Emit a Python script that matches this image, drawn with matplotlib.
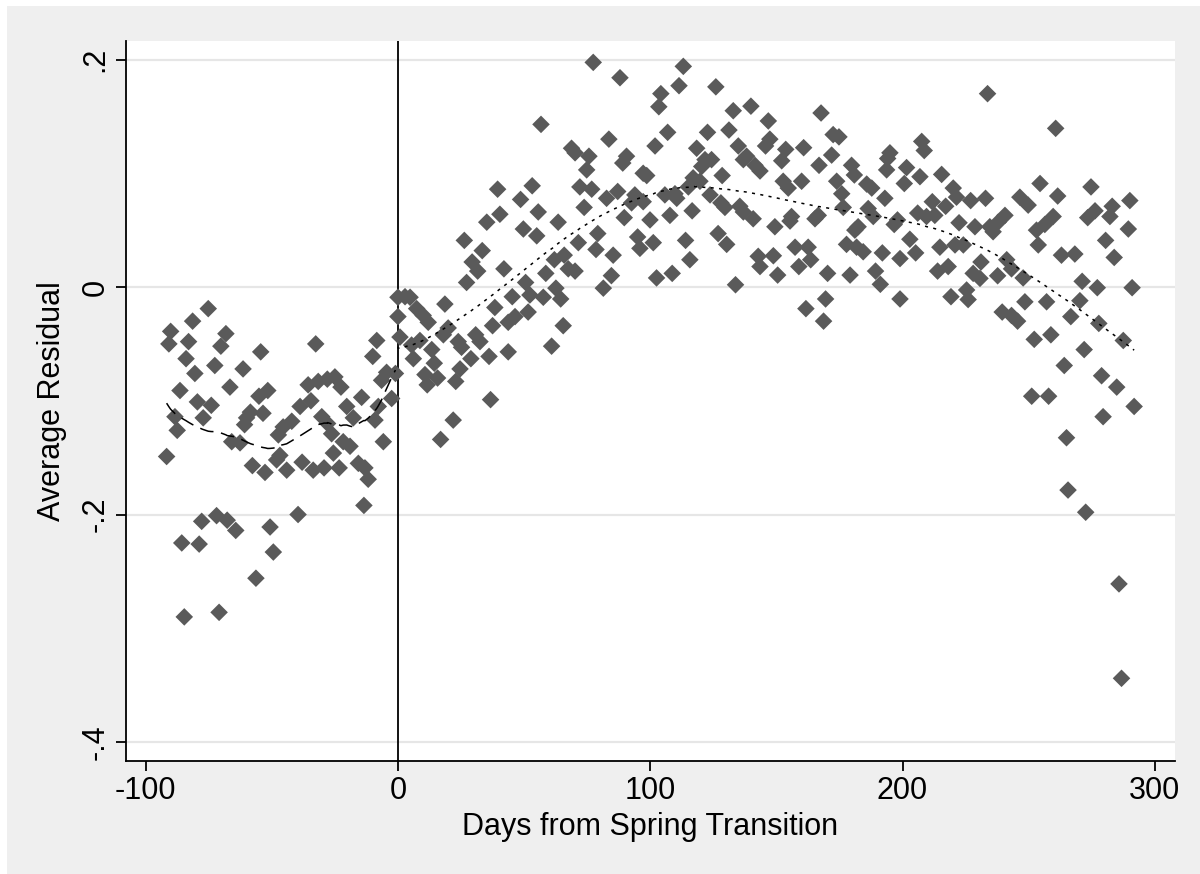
import numpy as np
import matplotlib
matplotlib.use("Agg")
import matplotlib.pyplot as plt
from matplotlib.patches import Rectangle

# ---------------- data ----------------
days_pre = [-91.7, -90.8, -90.1, -88.4, -87.5, -86.4, -85.7, -84.7, -84.0, -83.0,
            -81.4, -80.5, -79.5, -78.8, -77.8, -77.2, -75.2, -74.0, -72.6, -71.9,
            -70.9, -70.2, -68.2, -67.7, -66.6, -65.9, -64.3, -62.6, -61.4, -60.8,
            -60.0, -58.5, -57.7, -56.3, -55.1, -54.4, -53.5, -52.7, -51.6, -50.7,
            -49.4, -48.1, -47.4, -46.8, -45.5, -44.1, -42.1, -39.6, -38.8, -38.0,
            -35.6, -34.5, -33.6, -32.6, -31.6, -30.2, -29.3, -28.0, -27.9, -26.3,
            -25.6, -25.0, -23.3, -22.6, -21.7, -20.3, -19.0, -17.7, -15.7, -14.4,
            -13.5, -13.1, -11.8, -10.0, -9.1, -8.4, -7.8, -6.5, -5.8, -4.5,
            -2.5, -1.0]
resid_pre = [-0.149, -0.050, -0.039, -0.114, -0.126, -0.091, -0.225, -0.290, -0.063, -0.048,
             -0.030, -0.076, -0.101, -0.226, -0.206, -0.115, -0.019, -0.104, -0.069, -0.201,
             -0.286, -0.052, -0.041, -0.205, -0.088, -0.136, -0.214, -0.137, -0.072, -0.121,
             -0.115, -0.110, -0.157, -0.256, -0.096, -0.057, -0.111, -0.163, -0.091, -0.211,
             -0.233, -0.152, -0.130, -0.148, -0.123, -0.161, -0.118, -0.200, -0.105, -0.154,
             -0.086, -0.100, -0.161, -0.050, -0.083, -0.114, -0.159, -0.081, -0.120, -0.129,
             -0.146, -0.079, -0.159, -0.088, -0.136, -0.105, -0.140, -0.115, -0.155, -0.097,
             -0.192, -0.159, -0.169, -0.061, -0.117, -0.047, -0.105, -0.082, -0.136, -0.075,
             -0.098, -0.076]

days_post = [0.0, 0.0, 0.8, 2.8, 4.8, 5.4, 6.1, 7.4, 8.7, 10.0,
             10.7, 11.6, 12.0, 13.4, 14.4, 15.7, 16.9, 18.0, 18.6, 19.9,
             21.9, 22.9, 23.9, 24.6, 25.2, 26.3, 27.2, 28.9, 29.4, 30.8,
             31.6, 32.5, 33.4, 35.2, 36.1, 36.7, 37.5, 38.4, 39.5, 40.4,
             42.0, 43.7, 43.7, 45.3, 46.4, 48.6, 49.7, 50.6, 51.6, 52.3,
             53.2, 55.0, 55.6, 56.7, 57.6, 58.6, 60.9, 62.0, 62.6, 63.5,
             64.5, 65.5, 65.9, 67.5, 68.8, 70.2, 70.2, 71.5, 72.1, 73.8,
             74.8, 75.7, 76.8, 77.4, 78.5, 79.2, 81.4, 82.7, 83.6, 84.6,
             85.3, 87.1, 88.0, 89.1, 89.7, 90.6, 92.6, 93.9, 95.0, 95.9,
             97.2, 97.2, 98.6, 99.9, 101.2, 101.9, 102.5, 103.4, 104.2, 105.8,
             106.9, 107.8, 108.7, 109.8, 110.5, 111.4, 113.1, 114.0, 115.1, 115.7,
             116.6, 117.0, 118.4, 119.7, 120.4, 121.7, 122.7, 123.7, 124.3, 126.0,
             126.9, 128.0, 128.5, 129.6, 130.3, 131.2, 132.9, 133.8, 134.9, 135.5,
             136.9, 136.9, 138.2, 139.9, 140.8, 141.5, 142.8, 143.5, 143.5, 145.7,
             146.8, 147.4, 148.8, 149.4, 150.5, 152.1, 152.7, 153.7, 154.7, 155.4,
             156.0, 157.4, 158.9, 160.0, 160.8, 161.7, 162.6, 163.6, 165.3, 166.6,
             166.9, 167.7, 168.7, 169.5, 170.3, 171.9, 172.5, 173.9, 174.8, 175.9,
             176.5, 177.8, 179.2, 179.8, 180.9, 181.1, 181.8, 182.4, 184.4, 185.8,
             186.4, 187.8, 188.4, 189.3, 191.2, 192.0, 193.0, 193.7, 194.1, 195.0,
             196.7, 198.0, 199.0, 199.0, 200.7, 201.6, 202.9, 205.2, 206.0, 206.9,
             207.6, 208.6, 209.5, 211.8, 212.8, 213.9, 214.8, 215.5, 217.1, 218.1,
             219.2, 220.1, 220.8, 221.4, 222.4, 224.1, 225.4, 226.0, 227.0, 228.0,
             228.7, 230.7, 231.1, 232.9, 233.7, 234.6, 235.9, 237.7, 237.9, 239.5,
             240.6, 241.3, 243.2, 243.2, 245.6, 246.5, 247.8, 248.5, 249.8, 251.2,
             252.2, 253.1, 253.8, 254.5, 256.4, 257.1, 257.9, 258.8, 259.7, 260.7,
             261.5, 263.0, 264.1, 265.0, 265.6, 266.7, 268.3, 270.3, 271.2, 272.0,
             272.6, 273.4, 274.7, 276.3, 277.2, 277.8, 278.9, 279.5, 280.5, 282.2,
             283.1, 283.9, 284.9, 285.8, 286.8, 287.5, 289.5, 290.1, 291.0, 291.8]
resid_post = [-0.009, -0.026, -0.044, -0.0085, -0.009, -0.051, -0.063, -0.019, -0.047, -0.025,
              -0.077, -0.086, -0.031, -0.055, -0.067, -0.080, -0.134, -0.042, -0.015, -0.036,
              -0.117, -0.083, -0.048, -0.072, -0.053, 0.041, 0.004, -0.063, 0.022, -0.042,
              0.014, -0.048, 0.032, 0.057, -0.061, -0.099, -0.034, -0.018, 0.086, 0.064,
              0.016, -0.031, -0.057, -0.0085, -0.026, 0.077, 0.051, 0.004, -0.022, -0.007,
              0.089, 0.045, 0.066, 0.143, -0.009, 0.012, -0.052, 0.024, -0.001, 0.057,
              -0.0105, -0.034, 0.028, 0.016, 0.122, 0.118, 0.014, 0.039, 0.088, 0.070,
              0.103, 0.115, 0.086, 0.1975, 0.033, 0.047, -0.001, 0.078, 0.130, 0.010,
              0.028, 0.084, 0.184, 0.109, 0.061, 0.115, 0.074, 0.081, 0.044, 0.034,
              0.100, 0.075, 0.098, 0.059, 0.039, 0.124, 0.008, 0.1585, 0.170, 0.081,
              0.136, 0.063, 0.012, 0.082, 0.078, 0.177, 0.194, 0.041, 0.088, 0.024,
              0.067, 0.096, 0.122, 0.093, 0.106, 0.112, 0.136, 0.081, 0.112, 0.176,
              0.047, 0.074, 0.098, 0.070, 0.0375, 0.138, 0.155, 0.002, 0.124, 0.071,
              0.112, 0.066, 0.115, 0.159, 0.060, 0.107, 0.027, 0.102, 0.018, 0.124,
              0.146, 0.130, 0.0275, 0.053, 0.0105, 0.111, 0.093, 0.121, 0.087, 0.058,
              0.062, 0.035, 0.018, 0.093, 0.1225, -0.019, 0.035, 0.024, 0.060, 0.063,
              0.107, 0.153, -0.030, -0.0105, 0.012, 0.116, 0.134, 0.093, 0.132, 0.082,
              0.070, 0.0375, 0.0105, 0.107, 0.0985, 0.050, 0.035, 0.053, 0.031, 0.0905,
              0.069, 0.087, 0.062, 0.014, 0.0024, 0.030, 0.078, 0.103, 0.113, 0.118,
              0.055, 0.059, -0.0105, 0.025, 0.091, 0.105, 0.042, 0.030, 0.065, 0.097,
              0.128, 0.120, 0.062, 0.075, 0.063, 0.014, 0.035, 0.099, 0.071, 0.018,
              -0.0085, 0.087, 0.037, 0.079, 0.0565, 0.037, -0.0026, -0.011, 0.076, 0.012,
              0.053, 0.0076, 0.022, 0.078, 0.170, 0.053, 0.0486, 0.0099, 0.057, -0.022,
              0.063, 0.024, 0.016, -0.025, -0.030, 0.079, 0.008, -0.013, 0.072, -0.096,
              -0.046, 0.050, 0.037, 0.091, 0.055, -0.013, -0.096, -0.042, 0.062, 0.1395,
              0.080, 0.028, -0.069, -0.1325, -0.1785, -0.026, 0.029, -0.012, 0.005, -0.055,
              -0.198, 0.061, 0.088, 0.067, -0.0006, -0.032, -0.078, -0.114, 0.041, 0.062,
              0.071, 0.026, -0.088, -0.261, -0.344, -0.047, 0.051, 0.076, -0.0006, -0.105]

xticks = [-100, 0, 100, 200, 300]
xtick_labels = ["-100", "0", "100", "200", "300"]
yticks = [-0.4, -0.2, 0, 0.2]
ytick_labels = ["-.4", "-.2", "0", ".2"]
xlabel = "Days from Spring Transition"
ylabel = "Average Residual"
lowess_bw = 0.4


def lowess(x, y, bw):
    """Stata-style running-line lowess (tricube weights, no robustness)."""
    x = np.asarray(x, float)
    y = np.asarray(y, float)
    o = np.argsort(x, kind="stable")
    x, y = x[o], y[o]
    n = len(x)
    k = int(np.floor((n * bw - 0.5) / 2))
    out = np.empty(n)
    for i in range(n):
        lo, hi = max(0, i - k), min(n - 1, i + k)
        xs, ys = x[lo:hi + 1], y[lo:hi + 1]
        d = 1.0001 * max(x[hi] - x[i], x[i] - x[lo])
        w = (1 - (np.abs(xs - x[i]) / d) ** 3) ** 3
        W = w.sum()
        xm = (w * xs).sum() / W
        ym = (w * ys).sum() / W
        sxx = (w * (xs - xm) ** 2).sum()
        b = (w * (xs - xm) * (ys - ym)).sum() / sxx if sxx > 0 else 0.0
        out[i] = ym + b * (x[i] - xm)
    return x, out


plt.rcParams["font.family"] = ["Liberation Sans", "DejaVu Sans"]

W, H = 1200, 874
fig = plt.figure(figsize=(W / 100, H / 100), dpi=100)
fig.patch.set_facecolor("white")
fig.add_artist(Rectangle((7 / W, 0), 1 - 7 / W, 1 - 6 / H, transform=fig.transFigure,
                         facecolor="#EFEFEF", edgecolor="none", zorder=-5))

ax = fig.add_axes([126 / W, 1 - 761 / H, (1175 - 126) / W, (761 - 41) / H])
ax.set_facecolor("white")

ax.scatter(days_pre + days_post, resid_pre + resid_post, marker="D", s=80,
           color="#5A5A5A", edgecolors="none", zorder=3)

xp, yp = lowess(days_pre, resid_pre, lowess_bw)
ax.plot(xp, yp, color="black", lw=1.1, linestyle=(0, (9, 5)), zorder=4)
xq, yq = lowess(days_post, resid_post, lowess_bw)
ax.plot(xq, yq, color="black", lw=1.1, linestyle=(0, (2, 3.5)), zorder=4)

ax.axvline(0, color="black", lw=1.3, zorder=2)

ax.set_xlim(-107.8, 308.0)
ax.set_ylim(-0.4167, 0.2163)
ax.set_xticks(xticks)
ax.set_xticklabels(xtick_labels)
ax.set_yticks(yticks)
ax.set_yticklabels(ytick_labels, rotation=90, va="center")
ax.yaxis.grid(True, color="#E6E6E6", lw=1.6)
ax.set_axisbelow(True)

for s in ("top", "right"):
    ax.spines[s].set_visible(False)
for s in ("left", "bottom"):
    ax.spines[s].set_linewidth(1.3)
ax.tick_params(direction="out", length=7, width=1.3, labelsize=22, pad=4)

ax.set_xlabel(xlabel, fontsize=22, labelpad=4)
ax.set_ylabel(ylabel, fontsize=22, labelpad=10)

fig.savefig("out.png", dpi=100)
